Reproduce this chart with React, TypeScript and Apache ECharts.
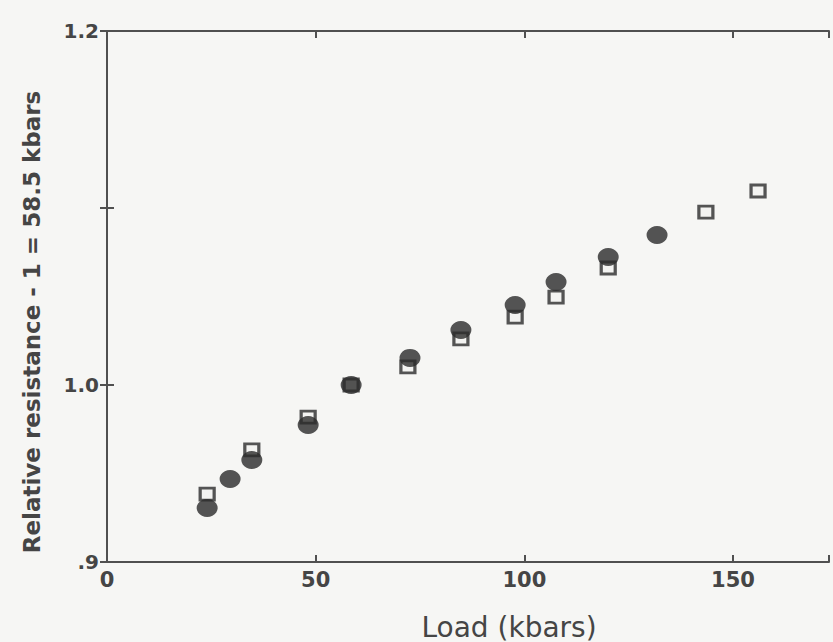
import React, { useEffect, useRef } from "react";
import * as echarts from "echarts";

// Filled circles: [load (kbars), relative resistance]
const circleLoads = [24.0, 29.5, 34.7, 48.2, 58.5, 72.6, 84.8, 97.8, 107.6, 120.1, 131.8];
const circleValues = [0.9305, 0.9469, 0.9576, 0.9774, 1.0, 1.0153, 1.0311, 1.0452, 1.0582, 1.0723, 1.0847];

// Open squares
const squareLoads = [24.0, 34.7, 48.2, 58.5, 72.1, 84.8, 97.8, 107.6, 120.1, 143.5, 156.0];
const squareValues = [0.9384, 0.9633, 0.9819, 1.0, 1.0102, 1.026, 1.0384, 1.0497, 1.0661, 1.0977, 1.1096];

const xTickLabels: Record<number, string> = { 0: "0", 50: "50", 100: "100", 150: "150" };
const yTickLabels: Record<string, string> = { "0.9": ".9", "1": "1.0", "1.2": "1.2" };

const FONT = "DejaVu Sans";
const INK = "#454545";

export default function App() {
  const ref = useRef<HTMLDivElement>(null);
  useEffect(() => {
    if (!ref.current) return;
    const chart = echarts.init(ref.current, undefined, { renderer: "svg" });
    const circles = circleLoads.map((x, i) => [x, circleValues[i]]);
    const squares = squareLoads.map((x, i) => [x, squareValues[i]]);
    const axisLine = { show: true, lineStyle: { color: "#505050", width: 2 } };
    const axisTick = { show: true, inside: true, length: 7, lineStyle: { color: "#505050", width: 2 } };
    chart.setOption({
      animation: false,
      backgroundColor: "#f6f6f4",
      grid: { left: 107, right: 4, top: 31, bottom: 80, containLabel: false },
      xAxis: [
        {
          type: "value",
          min: 0,
          max: 173,
          interval: 50,
          position: "bottom",
          axisLine,
          axisTick,
          splitLine: { show: false },
          axisLabel: {
            margin: 7,
            fontFamily: FONT,
            fontSize: 21,
            fontWeight: "bold",
            color: INK,
            formatter: (v: number) => xTickLabels[v] ?? "",
          },
        },
        {
          type: "value",
          min: 0,
          max: 173,
          interval: 50,
          position: "top",
          axisLine,
          axisTick,
          splitLine: { show: false },
          axisLabel: { show: false },
        },
      ],
      yAxis: [
        {
          type: "value",
          min: 0.9,
          max: 1.2,
          interval: 0.1,
          position: "left",
          axisLine,
          axisTick,
          splitLine: { show: false },
          axisLabel: {
            margin: 8,
            fontFamily: FONT,
            fontSize: 20,
            fontWeight: "bold",
            color: INK,
            formatter: (v: number) => yTickLabels[String(Math.round(v * 10) / 10)] ?? "",
          },
        },
        {
          type: "value",
          min: 0.9,
          max: 1.2,
          interval: 0.1,
          position: "right",
          axisLine,
          axisTick,
          splitLine: { show: false },
          axisLabel: { show: false },
        },
      ],
      graphic: [
        {
          type: "text",
          x: 509,
          y: 627,
          style: {
            text: "Load (kbars)",
            fontFamily: FONT,
            fontSize: 28,
            fill: INK,
            align: "center",
            verticalAlign: "middle",
          },
        },
        {
          type: "text",
          x: 32,
          y: 322,
          rotation: Math.PI / 2,
          style: {
            text: "Relative resistance - 1 = 58.5 kbars",
            fontFamily: FONT,
            fontSize: 23,
            fontWeight: "bold",
            fill: INK,
            align: "center",
            verticalAlign: "middle",
          },
        },
      ],
      series: [
        {
          type: "scatter",
          data: squares,
          symbol: "rect",
          symbolSize: [14, 12],
          itemStyle: { color: "#f2f2f0", borderColor: "#2c2c2c", borderWidth: 3 },
          z: 2,
        },
        {
          type: "scatter",
          data: circles,
          symbol: "circle",
          symbolSize: [21, 18],
          itemStyle: { color: "#2a2a2a" },
          z: 3,
        },
      ],
    });
    return () => chart.dispose();
  }, []);
  return (
    <div
      ref={ref}
      style={{ position: "fixed", left: 0, top: 0, width: 833, height: 642 }}
    />
  );
}
